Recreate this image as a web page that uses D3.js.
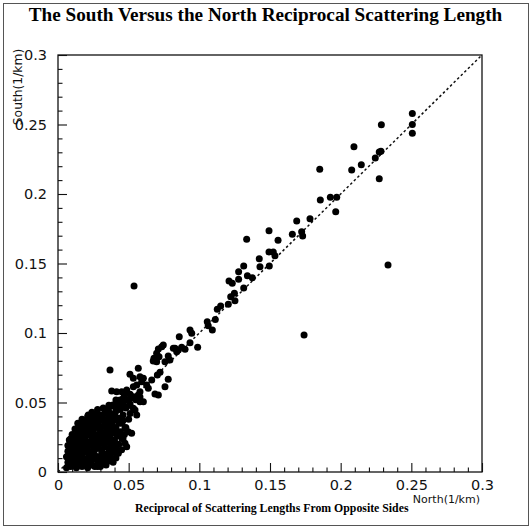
<!DOCTYPE html>
<html>
<head>
<meta charset="utf-8">
<script src="https://cdn.jsdelivr.net/npm/d3@7"></script>
<style>
  html, body { margin: 0; padding: 0; background: #fff; }
  svg { display: block; }
</style>
</head>
<body>
<svg id="chart" width="532" height="528"></svg>
<script>
// Reciprocal scattering length measured from the north side (1/km)
const northValues = [
  0.2507, 0.2507, 0.2507, 0.2288, 0.2094, 0.2273, 0.2285, 0.2245, 0.2146, 0.2078,
  0.1852, 0.2273, 0.1856, 0.1927, 0.1972, 0.1965, 0.1783, 0.1724, 0.1731, 0.1689,
  0.1493, 0.1335, 0.1658, 0.1557, 0.1493, 0.1523, 0.1535, 0.1424, 0.1429, 0.1495,
  0.1314, 0.1278, 0.1210, 0.1233, 0.1278, 0.1340, 0.1375, 0.1314, 0.1222, 0.1248,
  0.1252, 0.1205, 0.1151, 0.1127, 0.1113, 0.1056, 0.1063, 0.1092, 0.0934, 0.0946,
  0.0858, 0.0934, 0.0988, 0.0734, 0.0710, 0.0816, 0.0875, 0.1741, 0.2335, 0.0538,
  0.0698, 0.0715, 0.0674, 0.0698, 0.0780, 0.0792, 0.0757, 0.0368, 0.0568, 0.0722,
  0.0703, 0.0509, 0.0533, 0.0580, 0.0604, 0.0592, 0.0663, 0.0780, 0.0627, 0.0639,
  0.0533, 0.0557, 0.0486, 0.0580, 0.0568, 0.0533, 0.0757, 0.0686, 0.0710, 0.0380,
  0.0415, 0.0451, 0.0521, 0.0604, 0.0580, 0.0410, 0.0439, 0.0462, 0.0380, 0.0415,
  0.0451, 0.0486, 0.0533, 0.0226, 0.0108, 0.0250, 0.0828, 0.0851, 0.0899, 0.0745,
  0.0679, 0.0840, 0.0356, 0.0403, 0.0427, 0.0451, 0.0474, 0.0497, 0.0545, 0.0557,
  0.0521, 0.0415, 0.0451, 0.0474, 0.0486, 0.0427, 0.0389, 0.0424, 0.0214, 0.0226,
  0.006, 0.009, 0.013, 0.017, 0.021, 0.026, 0.007, 0.011, 0.015, 0.019,
  0.023, 0.028, 0.032, 0.006, 0.010, 0.013, 0.017, 0.021, 0.024, 0.029,
  0.034, 0.007, 0.011, 0.015, 0.019, 0.022, 0.026, 0.031, 0.036, 0.007,
  0.010, 0.013, 0.017, 0.021, 0.024, 0.028, 0.033, 0.008, 0.012, 0.015,
  0.019, 0.023, 0.027, 0.031, 0.037, 0.010, 0.014, 0.018, 0.021, 0.025,
  0.029, 0.034, 0.012, 0.016, 0.020, 0.023, 0.027, 0.032, 0.038, 0.014,
  0.018, 0.022, 0.026, 0.030, 0.035, 0.017, 0.021, 0.025, 0.029, 0.033,
  0.024, 0.028, 0.032, 0.036, 0.008, 0.012, 0.016, 0.020, 0.030,
  0.030, 0.034, 0.036, 0.039, 0.037, 0.041, 0.039, 0.041, 0.045, 0.038,
  0.043, 0.036, 0.040, 0.046, 0.033, 0.042, 0.047, 0.038, 0.044, 0.036,
  0.041, 0.048, 0.034, 0.043, 0.046, 0.039, 0.050, 0.037, 0.046, 0.051,
  0.041, 0.044, 0.048, 0.036, 0.046, 0.051, 0.049, 0.055, 0.047, 0.051,
  0.058, 0.020, 0.016, 0.009,
  0.008, 0.012, 0.016, 0.020, 0.024, 0.028, 0.032,
  0.008, 0.014, 0.019, 0.023, 0.027, 0.031, 0.035,
  0.009, 0.013, 0.018, 0.022, 0.026, 0.031, 0.036,
  0.009, 0.012, 0.016, 0.020, 0.025, 0.029, 0.033, 0.038,
  0.010, 0.014, 0.018, 0.022, 0.026, 0.030, 0.035, 0.039,
  0.012, 0.016, 0.020, 0.024, 0.028, 0.031, 0.036,
  0.014, 0.018, 0.022, 0.025, 0.030, 0.034, 0.040,
  0.017, 0.021, 0.025, 0.029, 0.036,
  0.023, 0.027, 0.032, 0.036,
  0.027, 0.031, 0.035, 0.039
];

// Reciprocal scattering length measured from the south side (1/km)
const southValues = [
  0.2580, 0.2500, 0.2437, 0.2499, 0.2340, 0.2302, 0.2307, 0.2259, 0.2211, 0.2173,
  0.2178, 0.2110, 0.1957, 0.1976, 0.1976, 0.1873, 0.1822, 0.1729, 0.1698, 0.1806,
  0.1736, 0.1674, 0.1710, 0.1667, 0.1583, 0.1583, 0.1556, 0.1535, 0.1477, 0.1482,
  0.1482, 0.1441, 0.1374, 0.1358, 0.1386, 0.1412, 0.1398, 0.1324, 0.1261, 0.1286,
  0.1232, 0.1206, 0.1194, 0.1170, 0.1098, 0.1081, 0.1052, 0.1022, 0.1022, 0.0998,
  0.0973, 0.0930, 0.0897, 0.0901, 0.0885, 0.0890, 0.0897, 0.0986, 0.1490, 0.1338,
  0.0854, 0.0829, 0.0799, 0.0794, 0.0835, 0.0806, 0.0794, 0.0734, 0.0746, 0.0717,
  0.0698, 0.0703, 0.0674, 0.0686, 0.0674, 0.0650, 0.0662, 0.0667, 0.0626, 0.0602,
  0.0614, 0.0626, 0.0590, 0.0578, 0.0554, 0.0542, 0.0614, 0.0561, 0.0554, 0.0583,
  0.0578, 0.0578, 0.0535, 0.0506, 0.0506, 0.0518, 0.0518, 0.0530, 0.0475, 0.0470,
  0.0482, 0.0470, 0.0458, 0.0397, 0.0254, 0.0099, 0.0890, 0.0878, 0.0883, 0.0914,
  0.0818, 0.0865, 0.0446, 0.0422, 0.0386, 0.0350, 0.0314, 0.0290, 0.0446, 0.0410,
  0.0278, 0.0278, 0.0242, 0.0206, 0.0182, 0.0134, 0.0482, 0.0494, 0.0410, 0.0386,
  0.003, 0.004, 0.003, 0.004, 0.003, 0.004, 0.007, 0.006, 0.008, 0.006,
  0.007, 0.006, 0.009, 0.011, 0.010, 0.012, 0.011, 0.010, 0.012, 0.011,
  0.013, 0.015, 0.014, 0.016, 0.015, 0.014, 0.016, 0.015, 0.017, 0.019,
  0.018, 0.020, 0.019, 0.018, 0.020, 0.019, 0.021, 0.023, 0.022, 0.024,
  0.023, 0.022, 0.024, 0.023, 0.025, 0.027, 0.026, 0.028, 0.027, 0.028,
  0.027, 0.029, 0.031, 0.030, 0.032, 0.031, 0.032, 0.033, 0.034, 0.035,
  0.034, 0.036, 0.035, 0.037, 0.038, 0.038, 0.040, 0.039, 0.041, 0.042,
  0.043, 0.045, 0.046, 0.043, 0.005, 0.009, 0.013, 0.021, 0.030,
  0.004, 0.005, 0.008, 0.007, 0.011, 0.010, 0.014, 0.017, 0.016, 0.019,
  0.020, 0.022, 0.023, 0.024, 0.025, 0.026, 0.027, 0.028, 0.029, 0.031,
  0.032, 0.032, 0.035, 0.035, 0.037, 0.037, 0.038, 0.040, 0.041, 0.042,
  0.044, 0.045, 0.046, 0.048, 0.049, 0.049, 0.052, 0.052, 0.055, 0.056,
  0.054, 0.036, 0.033, 0.024,
  0.005, 0.005, 0.006, 0.005, 0.005, 0.004, 0.006,
  0.009, 0.009, 0.008, 0.010, 0.009, 0.008, 0.010,
  0.013, 0.013, 0.014, 0.013, 0.012, 0.013, 0.014,
  0.017, 0.017, 0.018, 0.017, 0.016, 0.017, 0.018, 0.016,
  0.021, 0.021, 0.022, 0.021, 0.020, 0.021, 0.022, 0.020,
  0.025, 0.025, 0.026, 0.025, 0.024, 0.025, 0.026,
  0.029, 0.029, 0.030, 0.029, 0.028, 0.029, 0.030,
  0.033, 0.033, 0.034, 0.033, 0.032,
  0.037, 0.037, 0.038, 0.036,
  0.041, 0.041, 0.042, 0.040
];

const majorTicks = [0, 0.05, 0.1, 0.15, 0.2, 0.25, 0.3];
const minorTicks = [0.01, 0.02, 0.03, 0.04, 0.06, 0.07, 0.08, 0.09, 0.11, 0.12, 0.13, 0.14,
                    0.16, 0.17, 0.18, 0.19, 0.21, 0.22, 0.23, 0.24, 0.26, 0.27, 0.28, 0.29];
const tickLabels = ["0", "0.05", "0.1", "0.15", "0.2", "0.25", "0.3"];
const diagonal = [0, 0.3];

const titleText = "The South Versus the North Reciprocal Scattering Length";
const xTitle = "Reciprocal of Scattering Lengths From Opposite Sides";
const xUnit = "North(1/km)";
const yUnit = "South(1/km)";

const svg = d3.select("#chart");
const plotLeft = 58, plotRight = 482, plotTop = 55, plotBottom = 472;

const x = d3.scaleLinear().domain([0, 0.3]).range([plotLeft, plotRight]);
const y = d3.scaleLinear().domain([0, 0.3]).range([plotBottom, plotTop]);

// outer page frame
svg.append("rect")
  .attr("x", 3.5).attr("y", 3.5).attr("width", 525).attr("height", 522)
  .attr("fill", "none").attr("stroke", "#555").attr("stroke-width", 1);

// title
svg.append("text")
  .attr("x", 265.5).attr("y", 21)
  .attr("text-anchor", "middle")
  .attr("font-family", "'Liberation Serif', 'Times New Roman', serif")
  .attr("font-weight", "bold")
  .attr("font-size", 19.2)
  .text(titleText);

// plot frame
svg.append("rect")
  .attr("x", plotLeft).attr("y", plotTop)
  .attr("width", plotRight - plotLeft).attr("height", plotBottom - plotTop)
  .attr("fill", "none").attr("stroke", "#111").attr("stroke-width", 1.3);

const fmt = d => tickLabels[majorTicks.indexOf(d)];
const axisFont = "'DejaVu Sans', sans-serif";

// bottom axis: inward major ticks with labels, shorter minor ticks
const xMajor = svg.append("g").attr("transform", `translate(0,${plotBottom})`)
  .call(d3.axisBottom(x).tickValues(majorTicks).tickFormat(fmt).tickSizeInner(-9).tickSizeOuter(0).tickPadding(8));
const xMinor = svg.append("g").attr("transform", `translate(0,${plotBottom})`)
  .call(d3.axisBottom(x).tickValues(minorTicks).tickFormat("").tickSizeInner(-4.5).tickSizeOuter(0));

// left axis
const yMajor = svg.append("g").attr("transform", `translate(${plotLeft},0)`)
  .call(d3.axisLeft(y).tickValues(majorTicks).tickFormat(fmt).tickSizeInner(-9).tickSizeOuter(0).tickPadding(11));
const yMinor = svg.append("g").attr("transform", `translate(${plotLeft},0)`)
  .call(d3.axisLeft(y).tickValues(minorTicks).tickFormat("").tickSizeInner(-4.5).tickSizeOuter(0));

[xMajor, xMinor, yMajor, yMinor].forEach(g => {
  g.select(".domain").remove();
  g.selectAll(".tick line").attr("stroke", "#111").attr("stroke-width", 1.1);
  g.selectAll(".tick text")
    .attr("font-family", axisFont)
    .attr("font-size", 14.5)
    .attr("fill", "#111");
});

// unit labels
svg.append("text")
  .attr("x", 480).attr("y", 503)
  .attr("text-anchor", "end")
  .attr("font-family", axisFont)
  .attr("font-size", 11)
  .attr("fill", "#111")
  .text(xUnit);

svg.append("text")
  .attr("transform", "translate(22,87) rotate(-90)")
  .attr("text-anchor", "middle")
  .attr("font-family", axisFont)
  .attr("font-size", 12.3)
  .attr("fill", "#111")
  .text(yUnit);

// axis caption
svg.append("text")
  .attr("x", 135).attr("y", 512)
  .attr("font-family", "'Liberation Serif', 'Times New Roman', serif")
  .attr("font-weight", "bold")
  .attr("font-size", 11.8)
  .text(xTitle);

// y = x reference line
svg.append("line")
  .attr("x1", x(diagonal[0])).attr("y1", y(diagonal[0]))
  .attr("x2", x(diagonal[1])).attr("y2", y(diagonal[1]))
  .attr("stroke", "#111").attr("stroke-width", 1.5)
  .attr("stroke-dasharray", "2.5,2.5");

// scatter points
const points = northValues.map((n, i) => ({ n, s: southValues[i] }));
svg.append("g")
  .selectAll("circle")
  .data(points)
  .join("circle")
  .attr("cx", d => x(d.n))
  .attr("cy", d => y(d.s))
  .attr("r", 3.5)
  .attr("fill", "#000");
</script>
</body>
</html>
